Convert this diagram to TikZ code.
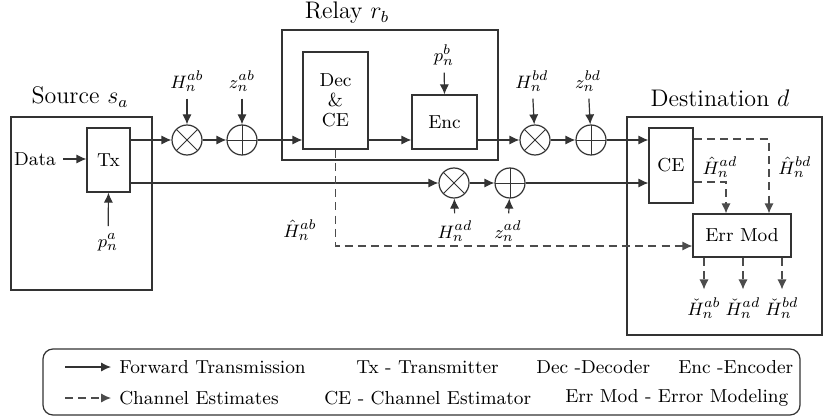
\documentclass[tikz,border=0pt]{standalone}
\usepackage{fontspec}
\usetikzlibrary{arrows.meta,calc}
\begin{document}
\begin{tikzpicture}[x=0.5pt,y=-0.5pt,line width=0.6pt,
  every node/.style={font=\fontsize{9.4}{11}\selectfont},
  ttl/.style={font=\fontsize{12}{14}\selectfont},
  box/.style={draw=black!80, inner sep=0pt, line width=0.6pt},
  arr/.style={-{Latex[length=5pt,width=4.6pt]}, draw=black!80},
  dln/.style={dash pattern=on 4pt off 2.6pt, draw=black!70},
  darr/.style={dln, -{Latex[length=5pt,width=4.6pt]}},
  ln/.style={draw=black!80},
  mult/.style={circle, draw=black!80, minimum size=15pt, inner sep=0pt,
    path picture={\draw[black!80,line width=0.5pt] (path picture bounding box.center) +(45:8pt) -- +(225:8pt) +(135:8pt) -- +(315:8pt);}},
  adder/.style={circle, draw=black!80, minimum size=15pt, inner sep=0pt,
    path picture={\draw[black!80,line width=0.5pt] (path picture bounding box.center) +(0pt,8pt) -- +(0pt,-8pt) +(-8pt,0pt) -- +(8pt,0pt);}}
]
\useasboundingbox (0,0) rectangle (824,417);

% titles
\node[ttl] (tsrc) at (80,97) {Source $s_a$};
\node[ttl] (trel) at (347,13) {Relay $r_b$};
\node[ttl] (tdst) at (720,98) {Destination $d$};

% boxes
\node[box, minimum width=70.5pt, minimum height=86.5pt] (src) at (81.5,203.5) {};
\node[box, minimum width=21.5pt, minimum height=32pt] (tx) at (108.5,160) {Tx};
\node[box, minimum width=108pt, minimum height=65pt] (relay) at (390,95) {};
\node[box, minimum width=32.5pt, minimum height=48.5pt, align=center] (dec) at (335.5,100.5) {Dec\\[-1pt]\&\\[-1pt]CE};
\node[box, minimum width=32.5pt, minimum height=27pt] (enc) at (444.5,122) {Enc};
\node[box, minimum width=97.5pt, minimum height=109pt] (dst) at (724.5,226) {};
\node[box, minimum width=22pt, minimum height=37.5pt] (ce) at (671,165.5) {CE};
\node[box, minimum width=49pt, minimum height=21.5pt] (err) at (742,235.5) {Err Mod};

% circles
\node[mult] (m1) at (187,140) {};
\node[adder] (a1) at (242,140) {};
\node[mult] (m2) at (535,140) {};
\node[adder] (a2) at (591,140) {};
\node[mult] (m3) at (454,183) {};
\node[adder] (a3) at (510,183) {};

% labels
\node (data) at (35,159) {Data};
\node (pa) at (108,242) {$p_n^a$};
\node (pb) at (444,55) {$p_n^b$};
\node (hab) at (187,81) {$H_n^{ab}$};
\node (zab) at (242,81) {$z_n^{ab}$};
\node (hbd) at (532,81) {$H_n^{bd}$};
\node (zbd) at (588,81) {$z_n^{bd}$};
\node (had) at (455,231) {$H_n^{ad}$};
\node (zad) at (508,231) {$z_n^{ad}$};
\node (ehab) at (300,230) {$\hat{H}_n^{ab}$};
\node (ehad) at (720,167) {$\hat{H}_n^{ad}$};
\node (ehbd) at (795,167) {$\hat{H}_n^{bd}$};
\node (cab) at (704,308) {$\check{H}_n^{ab}$};
\node (cad) at (743,308) {$\check{H}_n^{ad}$};
\node (cbd) at (782,308) {$\check{H}_n^{bd}$};

% forward connections
\draw[arr] (data) -- (tx.west |- data);
\draw[arr] (pa) -- (tx.south);
\draw[arr] (tx.east |- m1) -- (m1);
\draw[arr] (m1) -- (a1);
\draw[arr] (a1) -- (dec.west |- a1);
\draw[arr] (dec.east |- a1) -- (enc.west |- a1);
\draw[arr] (pb) -- (enc.north);
\draw[arr] (enc.east |- m2) -- (m2);
\draw[arr] (m2) -- (a2);
\draw[arr] (a2) -- (ce.west |- a2);
\draw[arr] (tx.east |- m3) -- (m3);
\draw[arr] (m3) -- (a3);
\draw[arr] (a3) -- (ce.west |- a3);
\draw[arr] (hab) -- (m1);
\draw[arr] (zab) -- (a1);
\draw[arr] (hbd) -- (m2);
\draw[arr] (zbd) -- (a2);
\draw[arr] (had) -- (m3);
\draw[arr] (zad) -- (a3);

% channel estimates
\coordinate (c1) at (335.5,246);
\draw[darr] (dec.south) -- (c1) -- (err.west |- c1);
\coordinate (c2) at (769,139);
\coordinate (c3) at (726,182);
\draw[darr] (ce.east |- c2) -- (c2) -- (err.north -| c2);
\draw[darr] (ce.east |- c3) -- (c3) -- (err.north -| c3);
\draw[darr] (err.south -| cab) -- ($(cab.north)+(0,-1)$);
\draw[darr] (err.south -| cad) -- ($(cad.north)+(0,-1)$);
\draw[darr] (err.south -| cbd) -- ($(cbd.north)+(0,-1)$);

% legend
\node[draw=black!80, rounded corners=5pt, minimum width=378.5pt, minimum height=33pt] (leg) at (421.5,382) {};
\coordinate (l1a) at (65,367); \coordinate (l1b) at (111,367);
\coordinate (l2a) at (65,398); \coordinate (l2b) at (111,398);
\draw[arr] (l1a) -- (l1b);
\draw[darr] (l2a) -- (l2b);
\node[anchor=west] (lt1) at (112,367) {Forward Transmission};
\node[anchor=west] (lt2) at (112,398) {Channel Estimates};
\node[anchor=west] (lt3) at (349,367) {Tx - Transmitter};
\node[anchor=west] (lt4) at (317,398) {CE - Channel Estimator};
\node[anchor=west] (lt5) at (529,367) {Dec -Decoder};
\node[anchor=west] (lt6) at (558,398) {Err Mod - Error Modeling};
\node[anchor=west] (lt7) at (671,367) {Enc -Encoder};
\end{tikzpicture}
\end{document}
